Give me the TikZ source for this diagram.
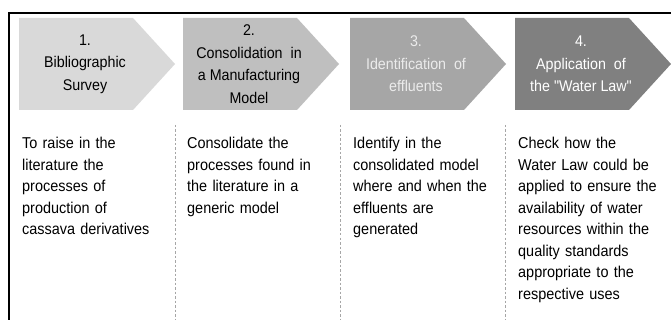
\documentclass[tikz,border=0pt]{standalone}
\usepackage{fontspec}
\setmainfont[FakeStretch=0.92,Ligatures=TeXOff]{Liberation Sans}
\begin{document}
\begin{tikzpicture}[x=1pt,y=-1pt,
  steplabel/.style={align=center,font=\fontsize{15.5}{22.5}\selectfont,inner sep=0pt},
  desc/.style={align=left,anchor=north west,font=\fontsize{15.7}{21.5}\selectfont,inner sep=0pt,text width=150pt},
  sep/.style={draw=black!35,line width=0.6pt,dash pattern=on 2.5pt off 2pt}]
\useasboundingbox (0,0) rectangle (671,320);
\fill[white] (0,0) rectangle (671,320);
% frame
\draw[line width=2.2pt] (9,320) -- (9,13) -- (671,13);
% chevrons
\foreach \L/\c/\n in {19/black!15/c1,183/black!25/c2,350/black!35/c3,515/black!50/c4}{
  \fill[\c] (\L,18) -- ({\L+114},18) -- ({\L+156},64) -- ({\L+114},110) -- (\L,110) -- cycle;
  \coordinate (\n) at ({\L+66},64);
}
\node[steplabel,text=black] (t1) at (c1) {1.\\Bibliographic\\Survey};
\node[steplabel,text=black] (t2) at (c2) {2.\\Consolidation\ \ in\\a Manufacturing\\Model};
\node[steplabel,text=white!92!black] (t3) at (c3) {3.\\Identification\ \ of\\effluents};
\node[steplabel,text=white] (t4) at (c4) {4.\\Application\ \ of\\the "Water Law"};
% separators
\coordinate (s1a) at (175,125); \coordinate (s1b) at (175,320);
\coordinate (s2a) at (340,125); \coordinate (s2b) at (340,320);
\coordinate (s3a) at (505,125); \coordinate (s3b) at (505,320);
\draw[sep] (s1a) -- (s1b);
\draw[sep] (s2a) -- (s2b);
\draw[sep] (s3a) -- (s3b);
% descriptions
\node[desc] (d1) at (22,137) {To raise in the\\literature the\\processes of\\production of\\cassava derivatives};
\node[desc] (d2) at (187,137) {Consolidate the\\processes found in\\the literature in a\\generic model};
\node[desc] (d3) at (353,137) {Identify in the\\consolidated model\\where and when the\\effluents are\\generated};
\node[desc] (d4) at (518,137) {Check how the\\Water Law could be\\applied to ensure the\\availability of water\\resources within the\\quality standards\\appropriate to the\\respective uses};
\end{tikzpicture}
\end{document}
